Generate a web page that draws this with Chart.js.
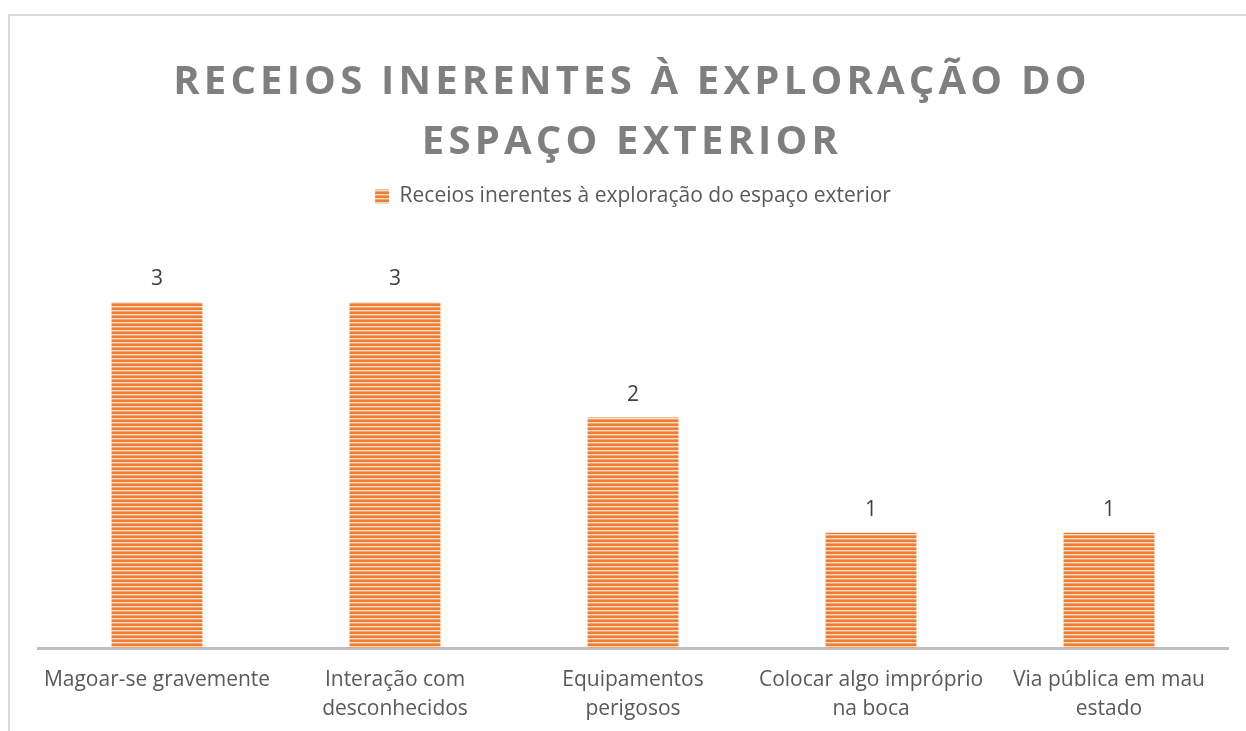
<!DOCTYPE html>
<html>
<head>
<meta charset="utf-8">
<script src="https://cdn.jsdelivr.net/npm/chart.js@4.4.1/dist/chart.umd.min.js"></script>
<style>
    html, body { margin: 0; padding: 0; background: #ffffff; overflow: hidden; }
    #frame { position: absolute; left: 8px; top: 14px; width: 1400px; height: 900px; border: 2px solid #d9d9d9; box-sizing: border-box; }
    #wrap { position: absolute; left: 0; top: 0; width: 1246px; height: 731px; }
</style>
</head>
<body>
<div id="frame"></div>
<div id="wrap"><canvas id="chart"></canvas></div>
<script>
// chart data
const titleLines = ['RECEIOS INERENTES À EXPLORAÇÃO DO', 'ESPAÇO EXTERIOR'];
const seriesName = 'Receios inerentes à exploração do espaço exterior';
const categories = [
    'Magoar-se gravemente',
    ['Interação com', 'desconhecidos'],
    ['Equipamentos', 'perigosos'],
    ['Colocar algo impróprio', 'na boca'],
    ['Via pública em mau', 'estado']
];
const values = [3, 3, 2, 1, 1];

const FONT = "'Open Sans', sans-serif";

// horizontal striped fill like the Excel pattern
function makeStripes() {
    const c = document.createElement('canvas');
    c.width = 4;
    c.height = 4;
    const g = c.getContext('2d');
    g.fillStyle = '#ED7D31';
    g.fillRect(0, 0, 4, 2);
    g.fillStyle = '#FBDCC7';
    g.fillRect(0, 2, 4, 1);
    g.fillStyle = '#F2A472';
    g.fillRect(0, 3, 4, 1);
    return g.createPattern(c, 'repeat');
}

const titlePlugin = {
    id: 'spacedTitle',
    afterDraw(chart) {
        const ctx = chart.ctx;
        ctx.save();
        ctx.font = "bold 40px " + FONT;
        ctx.fillStyle = '#7f7f7f';
        ctx.textAlign = 'center';
        ctx.textBaseline = 'middle';
        ctx.letterSpacing = '4.2px';
        titleLines.forEach(function(line, i) {
            ctx.fillText(line, 632, 83 + i * 60);
        });
        ctx.restore();
    }
};

const valueLabels = {
    id: 'valueLabels',
    afterDatasetsDraw(chart) {
        const ctx = chart.ctx;
        const meta = chart.getDatasetMeta(0);
        ctx.save();
        ctx.font = "21px " + FONT;
        ctx.fillStyle = '#404040';
        ctx.textAlign = 'center';
        ctx.textBaseline = 'middle';
        meta.data.forEach(function(bar, i) {
            ctx.fillText(String(values[i]), bar.x, bar.y - 23);
        });
        ctx.restore();
    }
};

const ctx = document.getElementById('chart');
new Chart(ctx, {
    type: 'bar',
    data: {
        labels: categories,
        datasets: [{
            label: seriesName,
            data: values,
            backgroundColor: makeStripes(),
            borderWidth: 0,
            categoryPercentage: 1,
            barPercentage: 0.382
        }]
    },
    options: {
        responsive: true,
        maintainAspectRatio: false,
        animation: false,
        layout: {
            padding: { left: 38, right: 18, top: 180, bottom: 0 }
        },
        scales: {
            x: {
                grid: { display: false, drawTicks: false },
                border: { display: true, color: '#bfbfbf', width: 3 },
                ticks: {
                    color: '#595959',
                    font: { family: FONT, size: 21, lineHeight: 1.4 },
                    padding: 17,
                    maxRotation: 0,
                    autoSkip: false
                },
                afterFit: function(scale) { scale.height = 83; }
            },
            y: {
                display: false,
                min: 0,
                max: 3.74
            }
        },
        plugins: {
            legend: {
                position: 'top',
                labels: {
                    color: '#595959',
                    font: { family: FONT, size: 21 },
                    boxWidth: 14,
                    boxHeight: 14,
                    padding: 6
                }
            },
            tooltip: { enabled: false }
        }
    },
    plugins: [titlePlugin, valueLabels]
});
</script>
</body>
</html>
